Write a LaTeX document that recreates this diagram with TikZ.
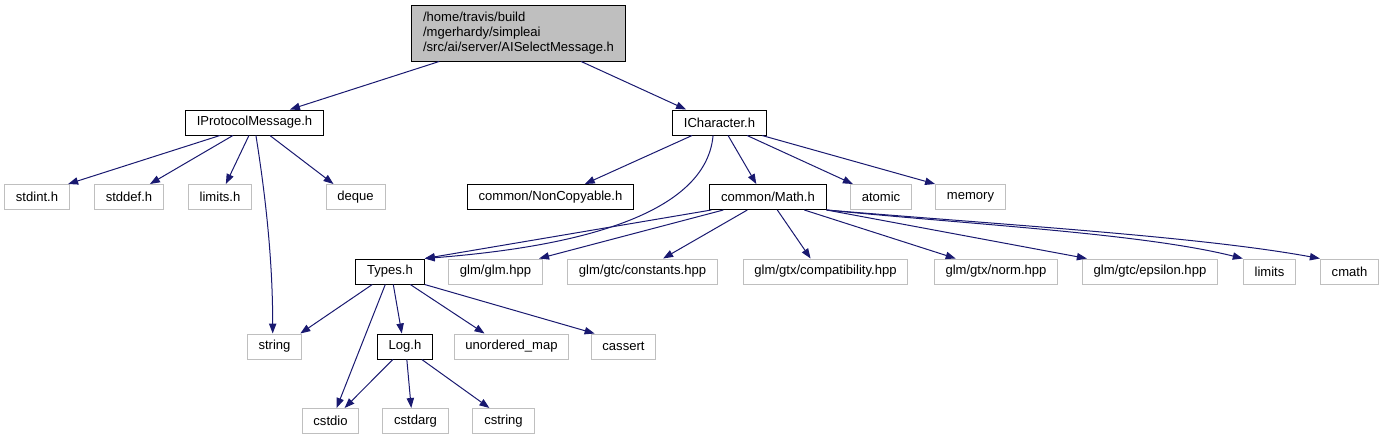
\documentclass[tikz,border=0pt]{standalone}
\usepackage{fontspec}
\setmainfont{Liberation Sans}
\usetikzlibrary{arrows.meta,calc}
\definecolor{edgeblue}{RGB}{25,25,112}
\definecolor{sysgray}{RGB}{191,191,191}

\begin{document}
\begin{tikzpicture}[x=0.75pt, y=-0.75pt,
  hdr/.style={draw=black, line width=0.75pt, inner xsep=8.5pt, inner ysep=0pt,
    minimum height=18.75pt, font=\fontsize{9.8}{11}\selectfont},
  sys/.style={hdr, draw=sysgray},
  dep/.style={edgeblue, line width=0.75pt, -{Triangle[length=7.5pt,width=5.5pt]}}]
  \useasboundingbox (0,0) rectangle (1381,440);
  % Fichier de départ
  \node[hdr, fill=sysgray, align=left, minimum height=42pt] (root) at (518.5,33)
    {/home/travis/build\\/mgerhardy/simpleai\\/src/ai/server/AISelectMessage.h};
  % Niveau 1
  \node[hdr] (ipm) at (254.5,122.5) {IProtocolMessage.h};
  \node[hdr] (ichar) at (719.5,122.5) {ICharacter.h};
  % Niveau 2
  \node[sys] (stdint) at (37,197) {stdint.h};
  \node[sys] (stddef) at (129,197) {stddef.h};
  \node[sys] (limitsh) at (220,197) {limits.h};
  \node[sys] (deque) at (355.5,197) {deque};
  \node[hdr] (noncopy) at (550.5,197) {common/NonCopyable.h};
  \node[hdr] (math) at (768,197) {common/Math.h};
  \node[sys] (atomic) at (881,197) {atomic};
  \node[sys] (memory) at (970.5,197) {memory};
  % Niveau 3
  \node[hdr] (types) at (390,271.5) {Types.h};
  \node[sys] (glm) at (495.5,271.5) {glm/glm.hpp};
  \node[sys] (consts) at (642.5,271.5) {glm/gtc/constants.hpp};
  \node[sys] (compat) at (825.5,271.5) {glm/gtx/compatibility.hpp};
  \node[sys] (norm) at (996,271.5) {glm/gtx/norm.hpp};
  \node[sys] (epsilon) at (1150,271.5) {glm/gtc/epsilon.hpp};
  \node[sys] (limits) at (1269.5,271.5) {limits};
  \node[sys] (cmath) at (1349.5,271.5) {cmath};
  % Niveau 4
  \node[sys] (string) at (274.5,346.5) {string};
  \node[hdr] (logh) at (405,346.5) {Log.h};
  \node[sys] (umap) at (511.5,346.5) {unordered\_map};
  \node[sys] (cassert) at (623.5,346.5) {cassert};
  % Niveau 5
  \node[sys] (cstdio) at (330.5,421) {cstdio};
  \node[sys] (cstdarg) at (415.5,421) {cstdarg};
  \node[sys] (cstring) at (503.5,421) {cstring};
  % Inclusions du fichier de départ
  \draw[dep] ($(root.south west)+(28,0)$) -- ($(ipm.north west)+(105,0)$);
  \draw[dep] ($(root.south west)+(170,0)$) -- ($(ichar.north west)+(14,0)$);
  % Inclusions de IProtocolMessage.h
  \draw[dep] ($(ipm.south west)+(35,0)$) -- ($(stdint.north west)+(64,0)$);
  \draw[dep] ($(ipm.south west)+(48,0)$) -- ($(stddef.north west)+(56,0)$);
  \draw[dep] ($(ipm.south west)+(64,0)$) -- ($(limitsh.north west)+(38,0)$);
  \draw[dep] ($(ipm.south west)+(71,0)$) .. controls +(8,50) and +(0,-80) .. ($(string.north west)+(26,0)$);
  \draw[dep] ($(ipm.south west)+(85,0)$) -- ($(deque.north west)+(8,0)$);
  % Inclusions de ICharacter.h
  \draw[dep] ($(ichar.south west)+(20,0)$) -- ($(noncopy.north west)+(118,0)$);
  \draw[dep] ($(ichar.south west)+(41,0)$) .. controls +(-8,90) and +(115,-9) .. (types.north east);
  \draw[dep] ($(ichar.south west)+(56,0)$) -- ($(math.north west)+(47,0)$);
  \draw[dep] ($(ichar.south west)+(75,0)$) -- ($(atomic.north west)+(3,0)$);
  \draw[dep] ($(ichar.south west)+(90,0)$) -- (memory.north west);
  % Inclusions de common/Math.h
  \draw[dep] ($(math.south west)+(2,0)$) -- (types.north east);
  \draw[dep] ($(math.south west)+(14,0)$) -- ($(glm.north west)+(91,0)$);
  \draw[dep] ($(math.south west)+(38,0)$) -- ($(consts.north west)+(96,0)$);
  \draw[dep] ($(math.south west)+(68,0)$) -- ($(compat.north west)+(68,0)$);
  \draw[dep] ($(math.south west)+(95,0)$) -- ($(norm.north west)+(22,0)$);
  \draw[dep] (math.south east) -- ($(epsilon.north west)+(5,0)$);
  \draw[dep] (math.south east) .. controls +(150,15) and +(-100,-25) .. (limits.north west);
  \draw[dep] (math.south east) .. controls +(180,15) and +(-120,-22) .. (cmath.north west);
  % Inclusions de Types.h
  \draw[dep] ($(types.south west)+(17,0)$) -- ($(string.north east)+(-2,0)$);
  \draw[dep] ($(types.south west)+(30,0)$) -- ($(cstdio.north west)+(35,0)$);
  \draw[dep] ($(types.south west)+(38,0)$) -- ($(logh.north west)+(25,0)$);
  \draw[dep] ($(types.south west)+(55,0)$) -- ($(umap.north west)+(31,0)$);
  \draw[dep] (types.south east) -- ($(cassert.north west)+(4,0)$);
  % Inclusions de Log.h
  \draw[dep] ($(logh.south west)+(16,0)$) -- ($(cstdio.north west)+(43,0)$);
  \draw[dep] ($(logh.south west)+(30,0)$) -- ($(cstdarg.north west)+(29,0)$);
  \draw[dep] ($(logh.south west)+(45,0)$) -- ($(cstring.north west)+(17,0)$);
\end{tikzpicture}
\end{document}
